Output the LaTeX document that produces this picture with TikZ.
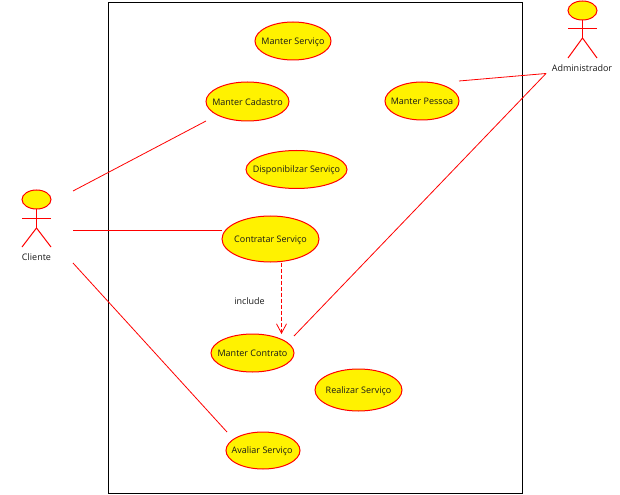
\documentclass[tikz,border=0pt]{standalone}
\usepackage{fontspec}
\setmainfont{Open Sans}
\usetikzlibrary{shapes.geometric,arrows.meta}
\newcommand{\uctext}[1]{\makebox[0pt][c]{\smash{\raisebox{-2.4pt}{#1}}}}
\tikzset{
  usecase/.style={ellipse,draw=red,fill=yellow,line width=0.75pt,inner sep=0pt,font=\fontsize{6.75pt}{8pt}\selectfont,text=black!90},
  link/.style={draw=red,line width=0.6pt},
  limb/.style={draw=red,line width=0.75pt},
  lbl/.style={inner sep=0pt,font=\fontsize{6.75pt}{8pt}\selectfont,text=black!90}
}
\begin{document}
\begin{tikzpicture}[x=0.75pt,y=-0.75pt]
\useasboundingbox (0,0) rectangle (620,495);
\node[draw=black,line width=0.75pt,minimum width=310.5pt,minimum height=367.9pt,inner sep=0pt] (frame) at (315.5,247.8) {};
% use cases
\node[usecase,minimum width=57pt,minimum height=28.5pt] (servico) at (293,41) {\uctext{Manter Serviço}};
\node[usecase,minimum width=62.25pt,minimum height=29.25pt] (cadastro) at (247.5,101.5) {\raisebox{-0.6pt}{\uctext{Manter Cadastro}}};
\node[usecase,minimum width=55.5pt,minimum height=28.5pt] (pessoa) at (422,101) {\uctext{Manter Pessoa}};
\node[usecase,minimum width=75.75pt,minimum height=28.5pt] (disp) at (296.5,169.5) {\uctext{Disponibilzar Serviço}};
\node[usecase,minimum width=72.75pt,minimum height=34.5pt] (contratar) at (270.5,239) {\uctext{Contratar Serviço}};
\node[usecase,minimum width=62.25pt,minimum height=28.5pt] (contrato) at (252.5,353) {\uctext{Manter Contrato}};
\node[usecase,minimum width=65.25pt,minimum height=31.5pt] (realizar) at (358.5,390) {\uctext{Realizar Serviço}};
\node[usecase,minimum width=55.5pt,minimum height=27.75pt] (avaliar) at (263,450.5) {\hspace{-1.2pt}\uctext{Avaliar Serviço}};
% actor Cliente
\node[ellipse,draw=red,fill=yellow,line width=0.75pt,inner sep=0pt,minimum width=21.75pt,minimum height=14.25pt] (chead) at (36.5,199.5) {};
\coordinate (chip) at (36.5,228);
\coordinate (carml) at (22,218);
\coordinate (carmr) at (51,218);
\coordinate (clegl) at (22,247);
\coordinate (clegr) at (51,247);
\draw[limb] (chead.south) -- (chip);
\draw[limb] (carml) -- (carmr);
\draw[limb] (clegl) -- (chip) -- (clegr);
\node[lbl] (cliente) at (36.5,257) {Cliente};
% actor Administrador
\node[ellipse,draw=red,fill=yellow,line width=0.75pt,inner sep=0pt,minimum width=21.75pt,minimum height=14.25pt] (ahead) at (582.5,10.5) {};
\coordinate (ahip) at (582.5,38);
\coordinate (aarml) at (568,28.5);
\coordinate (aarmr) at (597,28.5);
\coordinate (alegl) at (568,58);
\coordinate (alegr) at (597,58);
\draw[limb] (ahead.south) -- (ahip);
\draw[limb] (aarml) -- (aarmr);
\draw[limb] (alegl) -- (ahip) -- (alegr);
\node[lbl] (admin) at (582,68) {Administrador};
% connector ends
\coordinate (c1) at (73,191);
\coordinate (c2) at (73,230.5);
\coordinate (c3) at (73,263);
\coordinate (a1) at (546,73.5);
\coordinate (e1) at (206,121);
\coordinate (e2) at (222,230.5);
\coordinate (e3) at (227,432);
\coordinate (e4) at (459,81);
\coordinate (e5) at (294,336);
\coordinate (inc1) at (281.5,262.5);
\coordinate (inc2) at (281.5,334);
\draw[link] (c1) -- (e1);
\draw[link] (c2) -- (e2);
\draw[link] (c3) -- (e3);
\draw[link] (a1) -- (e4);
\draw[link] (a1) -- (e5);
\draw[draw=red,line width=0.75pt,dash pattern=on 3pt off 1.5pt,-{Straight Barb[length=7pt,width=7.5pt,line width=0.6pt,red]}] (inc1) -- (inc2);
\node[lbl] (incl) at (249.5,301.5) {include};
\end{tikzpicture}
\end{document}
